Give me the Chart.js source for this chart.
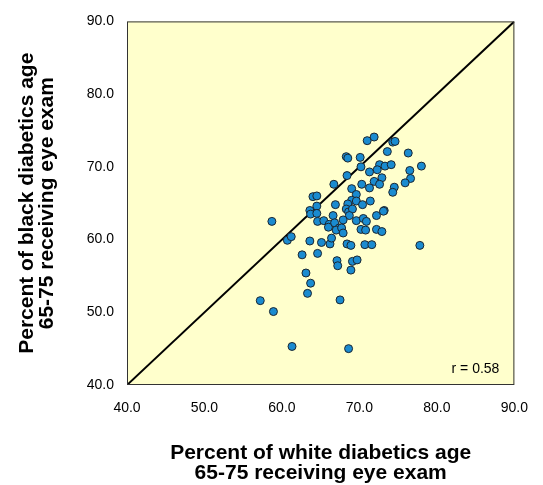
<!DOCTYPE html>
<html>
<head>
<meta charset="utf-8">
<script src="https://cdn.jsdelivr.net/npm/chart.js@4/dist/chart.umd.min.js"></script>
<style>
  html, body { margin: 0; padding: 0; background: #fff; }
  #wrap { width: 543px; height: 485px; }
</style>
</head>
<body>
<div id="wrap"><canvas id="scatterChart"></canvas></div>
<script>
// Percent of white diabetics (x) vs black diabetics (y) receiving eye exam
const whitePct = [
  71.0, 71.9, 74.3, 74.6, 68.3, 68.5, 70.1, 73.6, 76.3, 70.2,
  72.6, 73.3, 74.1, 78.0, 71.3, 72.3, 76.5, 68.4, 72.9, 71.9,
  72.6, 76.6, 75.9, 66.7, 70.3, 71.3, 69.0, 74.5, 74.3, 69.6,
  64.0, 64.5, 64.5, 66.9, 69.0, 69.6, 71.4, 68.5, 70.4, 63.6,
  63.7, 64.5, 68.3, 68.6, 69.1, 68.7, 66.6, 73.2, 73.1, 72.2,
  58.7, 64.6, 65.4, 66.1, 66.0, 66.8, 67.4, 67.0, 67.7, 67.9,
  69.6, 70.5, 70.9, 67.9, 70.2, 70.8, 72.2, 72.9, 60.7, 61.2,
  63.6, 65.1, 66.2, 66.4, 68.4, 68.9, 70.7, 71.6, 77.8, 62.6,
  64.6, 67.1, 67.2, 69.1, 69.7, 68.9, 63.1, 63.7, 63.3, 57.2,
  58.9, 67.5, 61.3, 68.6
];
const blackPct = [
  73.6, 74.1, 73.4, 73.5, 71.4, 71.2, 71.3, 72.1, 71.9, 70.0,
  70.3, 70.1, 70.3, 70.1, 69.3, 69.6, 69.5, 68.8, 68.5, 68.0,
  67.6, 68.4, 67.8, 67.6, 67.6, 67.1, 67.0, 67.2, 66.5, 66.2,
  65.9, 66.0, 64.6, 64.8, 65.4, 65.3, 65.3, 64.9, 64.8, 64.0,
  63.5, 63.6, 64.2, 63.8, 64.2, 63.3, 63.3, 64.0, 63.9, 63.3,
  62.5, 62.5, 62.6, 62.1, 61.7, 62.3, 61.6, 61.3, 61.6, 62.7,
  62.6, 62.9, 62.5, 60.9, 61.4, 61.3, 61.4, 61.1, 59.9, 60.4,
  59.8, 59.6, 59.4, 60.2, 59.4, 59.2, 59.3, 59.3, 59.2, 57.9,
  58.1, 57.1, 56.4, 57.0, 57.2, 55.8, 55.4, 54.0, 52.6, 51.6,
  50.1, 51.7, 45.3, 45.0
];
const axisMin = 40;
const axisMax = 90;
const tickStep = 10;
const rLabel = "r = 0.58";
const xTitle = ["Percent of white diabetics age", "65-75 receiving eye exam"];
const yTitle = ["Percent of black diabetics age", "65-75 receiving eye exam"];

const points = whitePct.map((w, i) => ({ x: w, y: blackPct[i] }));
const diagonal = [{ x: axisMin, y: axisMin }, { x: axisMax, y: axisMax }];

// fond groc + vora de l'àrea del gràfic + etiqueta r
const plotFrame = {
  id: "plotFrame",
  beforeDatasetsDraw(chart) {
    const { ctx, chartArea: a } = chart;
    ctx.save();
    ctx.fillStyle = "#ffffcc";
    ctx.fillRect(a.left, a.top, a.right - a.left, a.bottom - a.top);
    ctx.restore();
  },
  afterDraw(chart) {
    const { ctx, chartArea: a } = chart;
    ctx.save();
    ctx.strokeStyle = "#333";
    ctx.lineWidth = 1;
    ctx.strokeRect(a.left + 0.5, a.top + 0.5, a.right - a.left - 1, a.bottom - a.top - 1);
    ctx.fillStyle = "#000";
    ctx.font = "14px Arial, 'Liberation Sans', sans-serif";
    ctx.textAlign = "right";
    ctx.textBaseline = "middle";
    ctx.fillText(rLabel, a.right - 15, a.bottom - 16);
    ctx.restore();
  }
};

const tickFont = { family: "Arial, 'Liberation Sans', sans-serif", size: 14 };
const titleFont = { family: "Arial, 'Liberation Sans', sans-serif", size: 21, weight: "bold", lineHeight: "20px" };

new Chart(document.getElementById("scatterChart"), {
  type: "scatter",
  data: {
    datasets: [
      {
        label: "States",
        data: points,
        backgroundColor: "#1a8bd0",
        borderColor: "#1b2630",
        borderWidth: 1,
        pointRadius: 4,
        pointHoverRadius: 4,
        order: 1
      },
      {
        type: "line",
        label: "Equal",
        data: diagonal,
        borderColor: "#000",
        borderWidth: 2,
        pointRadius: 0,
        fill: false,
        order: 2
      }
    ]
  },
  options: {
    responsive: true,
    maintainAspectRatio: false,
    animation: false,
    layout: { padding: { top: 18, right: 27, left: 0, bottom: 0 } },
    plugins: {
      legend: { display: false },
      tooltip: { enabled: false }
    },
    scales: {
      x: {
        type: "linear",
        min: axisMin,
        max: axisMax,
        grid: { display: false, drawTicks: false },
        border: { display: false },
        ticks: {
          stepSize: tickStep,
          padding: 15,
          color: "#000",
          font: tickFont,
          maxRotation: 0,
          callback: (v) => v.toFixed(1)
        },
        title: {
          display: true,
          text: xTitle,
          color: "#000",
          font: titleFont,
          padding: { top: 0, bottom: 2 }
        },
        afterFit(scale) { scale.height = 100; }
      },
      y: {
        type: "linear",
        min: axisMin,
        max: axisMax,
        grid: { display: false, drawTicks: false },
        border: { display: false },
        ticks: {
          stepSize: tickStep,
          padding: 13,
          color: "#000",
          font: tickFont,
          callback: (v) => v.toFixed(1)
        },
        title: {
          display: true,
          text: yTitle,
          color: "#000",
          font: titleFont,
          padding: { top: 17, bottom: 0 }
        },
        afterFit(scale) { scale.width = 127; }
      }
    }
  },
  plugins: [plotFrame]
});
</script>
</body>
</html>
